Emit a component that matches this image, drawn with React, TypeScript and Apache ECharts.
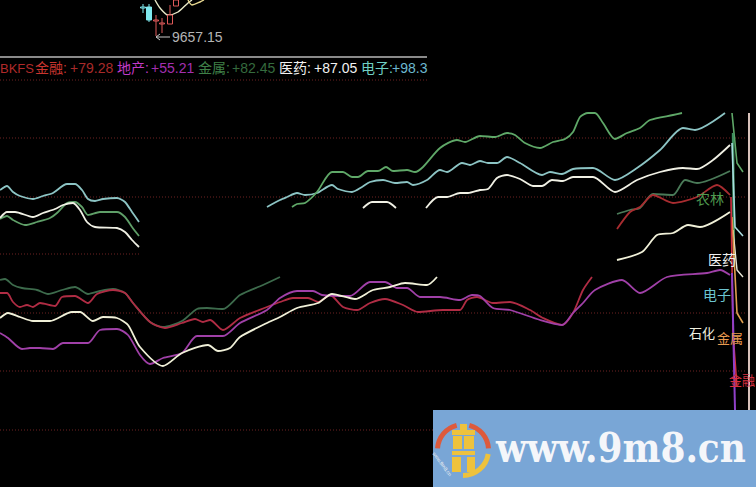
import React, { useEffect, useRef } from "react";
import * as echarts from "echarts";

type P = [number, number];

const tealLeft: P[] = [[0,190],[7,186],[13,192],[20,196],[33,199],[43,196],[53,193],[67,184],[75,184],[82,190],[88,199],[95,201],[103,199],[117,198],[125,202],[132,212],[139,222]];
const greenLeft: P[] = [[0,219],[7,216],[13,220],[25,225],[37,222],[50,218],[57,213],[67,203],[75,202],[82,207],[88,215],[100,212],[117,212],[125,217],[132,227],[139,236]];
const whiteLeft: P[] = [[0,218],[7,212],[15,212],[33,217],[43,213],[55,209],[63,205],[73,203],[80,210],[87,222],[95,227],[117,228],[125,232],[132,240],[139,247]];
const tealMain: P[] = [[267,207],[280,200],[287,197],[297,193],[305,195],[317,193],[332,185],[338,189],[352,192],[362,187],[370,182],[383,180],[395,183],[407,182],[413,185],[427,180],[440,170],[447,172],[462,163],[470,165],[480,161],[488,163],[497,163],[507,157],[520,163],[542,175],[550,172],[562,174],[573,169],[593,168],[615,180],[637,168],[660,150],[683,128],[695,130],[725,113]];
const greenMain: P[] = [[292,207],[297,204],[305,203],[317,192],[332,172],[343,172],[352,177],[358,177],[368,171],[378,171],[386,167],[393,171],[407,170],[415,172],[423,167],[440,148],[457,140],[465,142],[480,136],[495,137],[507,133],[515,135],[525,143],[540,148],[553,142],[565,139],[573,132],[580,117],[588,113],[595,113],[603,123],[615,139],[627,133],[640,128],[650,120],[673,115],[682,113]];
const whiteShort: P[] = [[363,208],[372,202],[387,202],[396,208]];
const whiteMain: P[] = [[426,208],[438,197],[447,197],[460,193],[468,193],[480,190],[488,189],[497,178],[507,175],[520,179],[533,186],[542,186],[552,180],[563,181],[573,177],[593,177],[615,192],[637,180],[660,172],[683,168],[697,169],[713,160],[730,145]];
const darkGreenLeft: P[] = [[0,280],[5,279],[13,285],[22,288],[37,290],[48,294],[62,290],[75,287],[88,294],[100,291],[113,289],[125,293],[133,303],[150,322],[163,327],[182,321],[197,309],[207,308],[223,309],[240,295],[263,285],[280,277]];
const darkGreenRight: P[] = [[617,214],[630,210],[640,208],[653,194],[673,195],[685,180],[697,183],[730,171]];
const redMain: P[] = [[0,293],[7,293],[13,302],[20,307],[27,305],[33,307],[40,303],[55,306],[62,297],[75,296],[88,303],[97,294],[113,290],[125,293],[133,303],[150,322],[165,328],[182,323],[195,319],[203,322],[210,320],[223,330],[240,318],[267,307],[280,302],[293,298],[308,298],[318,302],[330,295],[343,307],[357,310],[370,303],[385,299],[403,305],[418,312],[443,310],[460,310],[467,300],[477,297],[493,303],[510,302],[530,310],[543,318],[562,325],[573,313],[583,290],[592,277]];
const redRight: P[] = [[617,229],[630,212],[640,207],[653,195],[673,203],[697,197],[717,185],[730,195]];
const purpleMain: P[] = [[0,333],[8,338],[22,349],[30,348],[40,348],[53,349],[63,343],[88,343],[100,330],[117,329],[128,335],[140,355],[150,364],[163,358],[182,353],[197,336],[223,336],[240,323],[267,310],[280,298],[297,291],[313,291],[322,295],[350,296],[370,282],[385,282],[397,288],[407,288],[420,297],[440,297],[460,300],[472,295],[480,296],[493,308],[510,310],[540,320],[562,325],[573,313],[583,303],[595,290],[622,280],[640,293],[667,277],[707,273],[720,270],[730,275]];
const whiteLowerLeft: P[] = [[0,318],[8,313],[20,317],[33,321],[50,321],[72,312],[80,312],[93,321],[103,317],[117,318],[128,325],[140,347],[163,366],[182,353],[208,345],[218,351],[230,348],[240,337],[267,323],[280,317],[297,308],[318,303],[332,294],[355,299],[373,290],[390,287],[405,283],[427,285],[437,277]];
const whiteLowerRight: P[] = [[617,260],[642,252],[657,235],[673,233],[688,225],[700,227],[730,212]];

const tailGreen: P[] = [[732,113],[737,163],[743,172]];
const tailGreenDeep: P[] = [[733,133],[734,260]];
const tailTeal: P[] = [[732,143],[735,227],[743,236]];
const tailWhite: P[] = [[733,230],[737,270],[743,277]];
const tailOrange: P[] = [[732,217],[737,313],[743,323]];
const tailRed: P[] = [[731,197],[733,333],[737,387]];
const tailPurple: P[] = [[732,273],[735,410]];
const edgeLine: P[] = [[749,113],[749,410]];

const maFast: P[] = [[155,0],[160,8],[168,15],[178,12],[188,3],[192,0]];
const maSlow: P[] = [[188,0],[192,5],[200,2],[204,0]];

const gridLevels: [number, number, number][] = [[80,0,427],[138,0,745],[197,0,745],[254,0,140],[313,0,745],[371,0,745],[430,0,433]];

const candleX = [143, 149, 156, 162, 170, 176];
const candleOpen = [7, 20, 21, 24, 24, 6];
const candleClose = [8, 7, 20, 23, 15, 0];
const candleHigh = [4, 4, 15, 18, 5, 0];
const candleLow = [13, 22, 36, 33, 24, 6];
const candleColor = ["#7fe8ee", "#7fe8ee", "#e05a5a", "#e05a5a", "#e05a5a", "#e05a5a"];

const legendNames = ["BKFS", "金融:", "+79.28", "地产:", "+55.21", "金属:", "+82.45", "医药:", "+87.05", "电子:", "+98.3"];
const legendX = [0, 35, 70, 117, 151, 198, 232, 279, 314, 361, 392];
const legendColor = ["#b02a2a", "#c8352f", "#a82a2a", "#c23ac8", "#a32fb0", "#3f8048", "#356b3e", "#f2f2f2", "#f2f2f2", "#70d0c4", "#6cb8d0"];

const sectorNames = ["农林", "医药", "电子", "石化", "金属", "金融"];
const sectorX = [696, 708, 703, 689, 717, 729];
const sectorY = [199, 260, 295, 333, 338, 380];
const sectorSize = [14, 14, 14, 13, 13, 13];
const sectorColor = ["#4f9a4f", "#f0f0f0", "#6cc4d0", "#f0f0e0", "#e89a50", "#d83040"];

const FONT = '"Liberation Sans", "Noto Sans CJK SC", sans-serif';

const line = (name: string, data: P[], color: string, width = 1.8, z = 3, smooth: number | boolean = 0.25) => ({
  type: "line", name, data, silent: true, showSymbol: false, smooth, z,
  lineStyle: { color, width }, connectNulls: false,
});

export default function App() {
  const ref = useRef<HTMLDivElement>(null);
  useEffect(() => {
    document.body.style.margin = "0";
    document.body.style.background = "#000";
    const chart = echarts.init(ref.current!, undefined, { renderer: "svg" });
    const levelSeries = gridLevels.map(([lv, a, b], i) => ({
      type: "line", name: "level" + i, silent: true, showSymbol: false, z: 1,
      data: [[a, lv], [b, lv]],
      lineStyle: { color: "#6e2222", width: 1, type: [1, 2] },
    }));
    chart.setOption({
      animation: false,
      backgroundColor: "#000",
      grid: { left: 0, right: 0, top: 0, bottom: 0 },
      xAxis: { type: "value", min: 0, max: 756, show: false },
      yAxis: { type: "value", min: 0, max: 487, inverse: true, show: false },
      series: [
        ...levelSeries,
        line("青左", tealLeft, "#8cc4c4"),
        line("绿左", greenLeft, "#5f9f68"),
        line("白左", whiteLeft, "#f0f0e4"),
        line("电子", tealMain, "#8cc4c4"),
        line("农林", greenMain, "#5fa868"),
        line("医药短", whiteShort, "#f0f0e4"),
        line("医药", whiteMain, "#f0f0e4"),
        line("金属左", darkGreenLeft, "#3d6b4c"),
        line("金属右", darkGreenRight, "#4a7a58"),
        line("金融", redMain, "#b02c44"),
        line("金融右", redRight, "#a82c30"),
        line("地产", purpleMain, "#a040a8"),
        line("石化左", whiteLowerLeft, "#f0f0d8"),
        line("石化右", whiteLowerRight, "#f0f0d8"),
        line("尾绿", tailGreen, "#5fa868", 1.6, 4, false),
        line("尾深绿", tailGreenDeep, "#3f8f5f", 2.4, 4, false),
        line("尾青", tailTeal, "#a8dce0", 1.6, 4, false),
        line("尾白", tailWhite, "#e8e8d8", 1.4, 4, false),
        line("尾橙", tailOrange, "#e0a050", 1.6, 4, false),
        line("尾红", tailRed, "#d03040", 1.6, 5, false),
        line("尾紫", tailPurple, "#9040c8", 2, 5, false),
        line("边线", edgeLine, "#f0d8d0", 1.8, 4, false),
        line("均线快", maFast, "#e8e8c8", 1.4, 4),
        line("均线慢", maSlow, "#e8d890", 1.4, 4),
        {
          type: "custom", name: "K线", silent: true, z: 5, clip: false,
          data: candleX.map((x, i) => [x, candleOpen[i], candleClose[i], candleHigh[i], candleLow[i], i]),
          encode: { x: 0, y: [1, 2, 3, 4] },
          renderItem: (_p: any, api: any) => {
            const x = api.value(0);
            const [, o] = api.coord([x, api.value(1)]);
            const [, c] = api.coord([x, api.value(2)]);
            const [px, h] = api.coord([x, api.value(3)]);
            const [, l] = api.coord([x, api.value(4)]);
            const idx = api.value(5);
            const col = candleColor[idx];
            const filled = idx === 1;
            const top = Math.min(o, c), bot = Math.max(o, c);
            return {
              type: "group",
              children: [
                { type: "line", shape: { x1: px, y1: h, x2: px, y2: top }, style: { stroke: col, lineWidth: 1 } },
                { type: "line", shape: { x1: px, y1: bot, x2: px, y2: l }, style: { stroke: col, lineWidth: 1 } },
                { type: "rect", shape: { x: px - 2.5, y: top, width: 5, height: Math.max(bot - top, 1) },
                  style: { fill: filled ? col : "#000", stroke: col, lineWidth: 1 } },
              ],
            };
          },
        },
      ],
      graphic: [
        { type: "line", z: 10, shape: { x1: 0, y1: 57, x2: 427, y2: 57 }, style: { stroke: "#b8b8b8", lineWidth: 1.5 } },
        { type: "line", z: 10, shape: { x1: 156, y1: 37, x2: 170, y2: 37 }, style: { stroke: "#c8c8c8", lineWidth: 1 } },
        { type: "polyline", z: 10, shape: { points: [[160, 34], [156, 37], [160, 40]] }, style: { stroke: "#c8c8c8", fill: "none", lineWidth: 1 } },
        { type: "text", z: 10, x: 172, y: 37, style: { text: "9657.15", fill: "#b4b4b4", font: `14px ${FONT}`, textVerticalAlign: "middle" } },
        ...legendNames.map((t, i) => ({
          type: "text", z: 10, x: legendX[i], y: 68,
          style: { text: t, fill: legendColor[i], font: `${i === 0 ? 13 : 14}px ${FONT}`, textVerticalAlign: "middle" },
        })),
        ...sectorNames.map((t, i) => ({
          type: "text", z: 10, x: sectorX[i], y: sectorY[i],
          style: { text: t, fill: sectorColor[i], font: `${sectorSize[i]}px ${FONT}`, textVerticalAlign: "middle" },
        })),
        { type: "rect", z: 20, shape: { x: 433, y: 410, width: 323, height: 77 }, style: { fill: "#79a6d6" } },
        { type: "arc", z: 21, shape: { cx: 463, cy: 450, r: 25.5, startAngle: Math.PI * 1.02, endAngle: Math.PI * 1.42 }, style: { stroke: "#dd5a3c", lineWidth: 5, fill: "none" } },
        { type: "arc", z: 21, shape: { cx: 463, cy: 450, r: 25.5, startAngle: Math.PI * 1.58, endAngle: Math.PI * 1.98 }, style: { stroke: "#dd5a3c", lineWidth: 5, fill: "none" } },
        { type: "arc", z: 21, shape: { cx: 463, cy: 450, r: 25.5, startAngle: Math.PI * 0.05, endAngle: Math.PI * 0.5 }, style: { stroke: "#eec23c", lineWidth: 5, fill: "none" } },
        { type: "rect", z: 21, shape: { x: 460, y: 424, width: 7, height: 7 }, style: { fill: "#eec23c" } },
        { type: "rect", z: 21, shape: { x: 452, y: 430, width: 23, height: 5 }, style: { fill: "#eec23c" } },
        { type: "rect", z: 21, shape: { x: 453, y: 436, width: 9, height: 13 }, style: { fill: "#eec23c" } },
        { type: "rect", z: 21, shape: { x: 464, y: 436, width: 10, height: 13 }, style: { fill: "#eec23c" } },
        { type: "rect", z: 21, shape: { x: 452, y: 451, width: 23, height: 4 }, style: { fill: "#eec23c" } },
        { type: "rect", z: 21, shape: { x: 452, y: 457, width: 9, height: 15 }, style: { fill: "#eec23c" } },
        { type: "rect", z: 21, shape: { x: 467, y: 457, width: 8, height: 15 }, style: { fill: "#eec23c" } },
        { type: "text", z: 21, x: 436, y: 451, rotation: -Math.PI * 0.3, style: { text: "www.9m8.cn", fill: "#f2f2f2", font: `5px ${FONT}` } },
        { type: "text", z: 21, x: 496, y: 468, scaleX: 0.875, style: { text: "www.9m8.cn", fill: "#f4f6fa", font: 'bold 41px "DejaVu Serif", serif', textVerticalAlign: "bottom" } },
      ],
    });
    return () => chart.dispose();
  }, []);
  return <div ref={ref} style={{ width: 756, height: 487 }} />;
}
